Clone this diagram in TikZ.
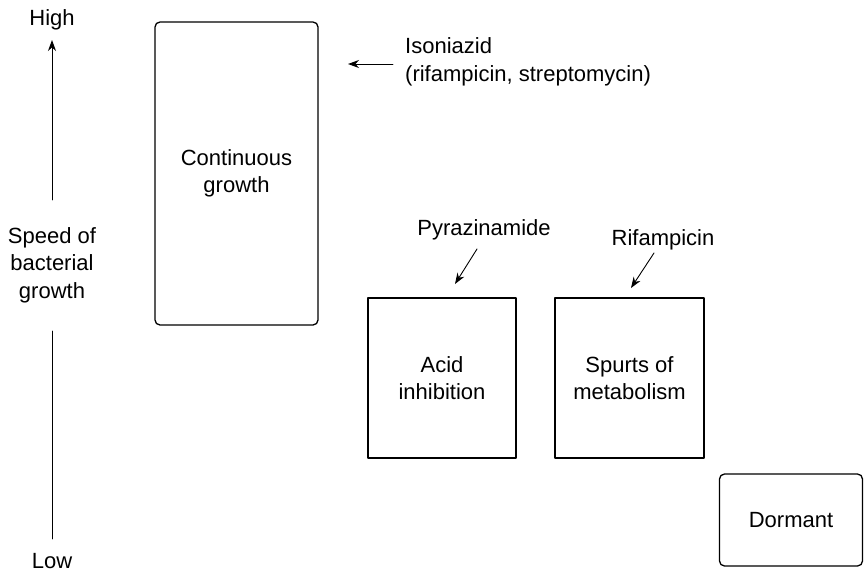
\documentclass[tikz,border=0pt]{standalone}
\usepackage{fontspec}
\setmainfont{Liberation Sans}
\usetikzlibrary{arrows.meta}
\begin{document}
\begin{tikzpicture}[>={Stealth[length=11pt,width=8pt]}, x=1pt, y=-1pt, line cap=round, line join=round,
	every node/.style={font=\fontsize{22}{27.5}\selectfont, align=center, inner sep=0pt},
	roundbox/.style={draw, line width=1.3pt, rounded corners=5pt},
	sqbox/.style={draw, line width=1.3pt},
	link/.style={->, line width=0.9pt}]
		\useasboundingbox (0,0) rectangle (864,573);
		% speed axis
		\node (high) at (52,20) {High};
		\node (speed) at (52,265) {Speed of\\bacterial\\growth};
		\node (low) at (52,561) {Low};
		\coordinate (upA) at (52,200); \coordinate (upB) at (52,40);
		\coordinate (loA) at (52,539); \coordinate (loB) at (52,331);
		\draw [link] (upA)--(upB);
		\draw [line width=0.9pt] (loA)--(loB);
		% growth states
		\node [roundbox, minimum width=163, minimum height=303] (cont) at (236.5,173.5) {Continuous\\growth};
		\node [sqbox, minimum width=148, minimum height=160] (acid) at (442,378) {Acid\\inhibition};
		\node [sqbox, minimum width=149, minimum height=160] (spurt) at (629.5,378) {Spurts of\\metabolism};
		\node [roundbox, minimum width=143, minimum height=92] (dorm) at (791,520) {Dormant};
		% drugs
		\node [anchor=west, align=left] (iso) at (405,62) {Isoniazid\\(rifampicin, streptomycin)};
		\node (pyr) at (484,230) {Pyrazinamide};
		\node (rif) at (663,240) {Rifampicin};
		\coordinate (isoA) at (393,64); \coordinate (isoB) at (348,64);
		\coordinate (pyrA) at (477,249); \coordinate (pyrB) at (455,284);
		\coordinate (rifA) at (654,253); \coordinate (rifB) at (631,288);
		\draw [link] (isoA)--(isoB);
		\draw [link] (pyrA)--(pyrB);
		\draw [link] (rifA)--(rifB);
\end{tikzpicture}
\end{document}
